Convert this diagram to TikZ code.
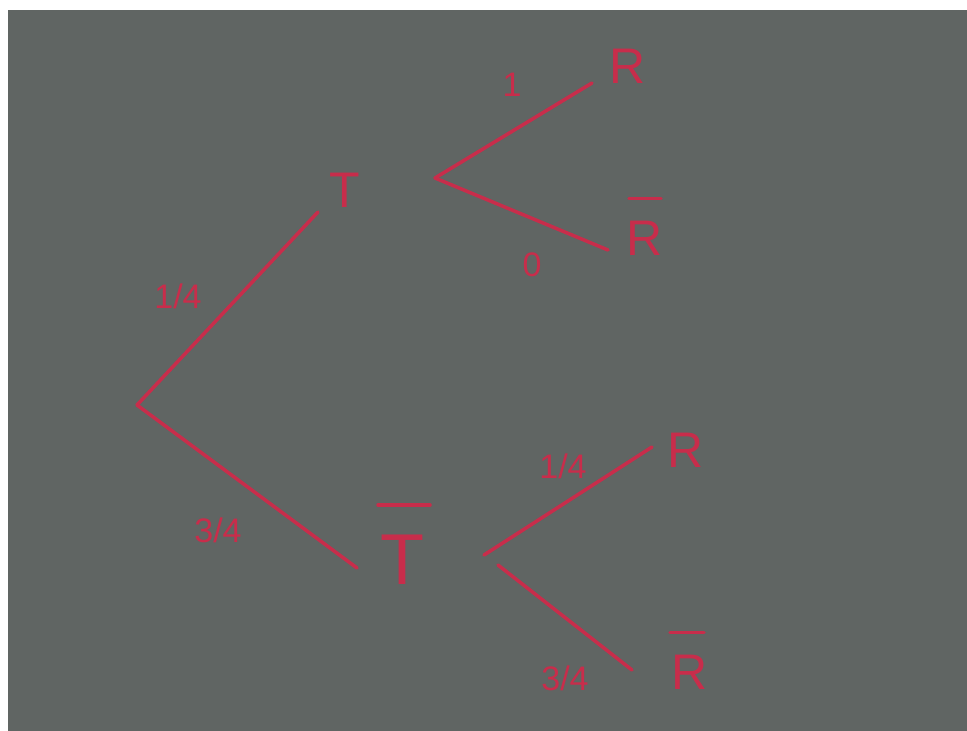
\documentclass[tikz,border=0pt]{standalone}
\usepackage{fontspec}
\setmainfont{Liberation Sans}
\definecolor{board}{RGB}{96,101,99}
\definecolor{marker}{RGB}{200,45,75}
\begin{document}
\begin{tikzpicture}[x=1pt,y=-1pt,
  branch/.style={draw=marker,line width=3.5pt,line cap=round},
  bar/.style={draw=marker,line width=3.5pt,line cap=round},
  letter/.style={text=marker,font=\fontsize{50}{50}\selectfont,inner sep=0pt},
  prob/.style={text=marker,font=\fontsize{34}{34}\selectfont,inner sep=0pt}]
\fill[white] (0,0) rectangle (967,731);
\fill[board] (8,10) rectangle (967,731);
\useasboundingbox (0,0) rectangle (967,731);
% nodes
\coordinate (root) at (137,405);
\node[letter] (T) at (345,190) {T};
\node[letter,font=\fontsize{72}{72}\selectfont] (Tb) at (402,560) {T};
\coordinate (bT) at (435,178);
\coordinate (bTb) at (484,555);
\node[letter] (R1) at (628,66) {R};
\node[letter] (Rb1) at (645,238) {R};
\node[letter] (R2) at (686,450) {R};
\node[letter] (Rb2) at (690,672) {R};
% bars
\draw[bar] ([xshift=-24pt,yshift=30pt]Tb.north) -- ([xshift=28pt,yshift=30pt]Tb.north);
\draw[bar] ([xshift=-16pt,yshift=22pt]Rb1.north) -- ([xshift=16pt,yshift=22pt]Rb1.north);
\draw[bar] ([xshift=-20pt,yshift=22pt]Rb2.north) -- ([xshift=14pt,yshift=22pt]Rb2.north);
% end points of branches
\coordinate (eT) at (318,212);
\coordinate (eTb) at (357,568);
\coordinate (eR1) at (592,83);
\coordinate (eRb1) at (608,250);
\coordinate (eR2) at (652,447);
\coordinate (eRb2) at (632,670);
\coordinate (sRb2) at (498,565);
% branches
\draw[branch] (root) -- (eT);
\draw[branch] (root) -- (eTb);
\draw[branch] (bT) -- (eR1);
\draw[branch] (bT) -- (eRb1);
\draw[branch] (bTb) -- (eR2);
\draw[branch] (sRb2) -- (eRb2);
% probabilities
\node[prob] (p1) at (178,296) {1/4};
\node[prob] (p2) at (218,530) {3/4};
\node[prob] (p3) at (512,85) {1};
\node[prob] (p4) at (532,265) {0};
\node[prob] (p5) at (563,466) {1/4};
\node[prob] (p6) at (565,678) {3/4};
\end{tikzpicture}
\end{document}
